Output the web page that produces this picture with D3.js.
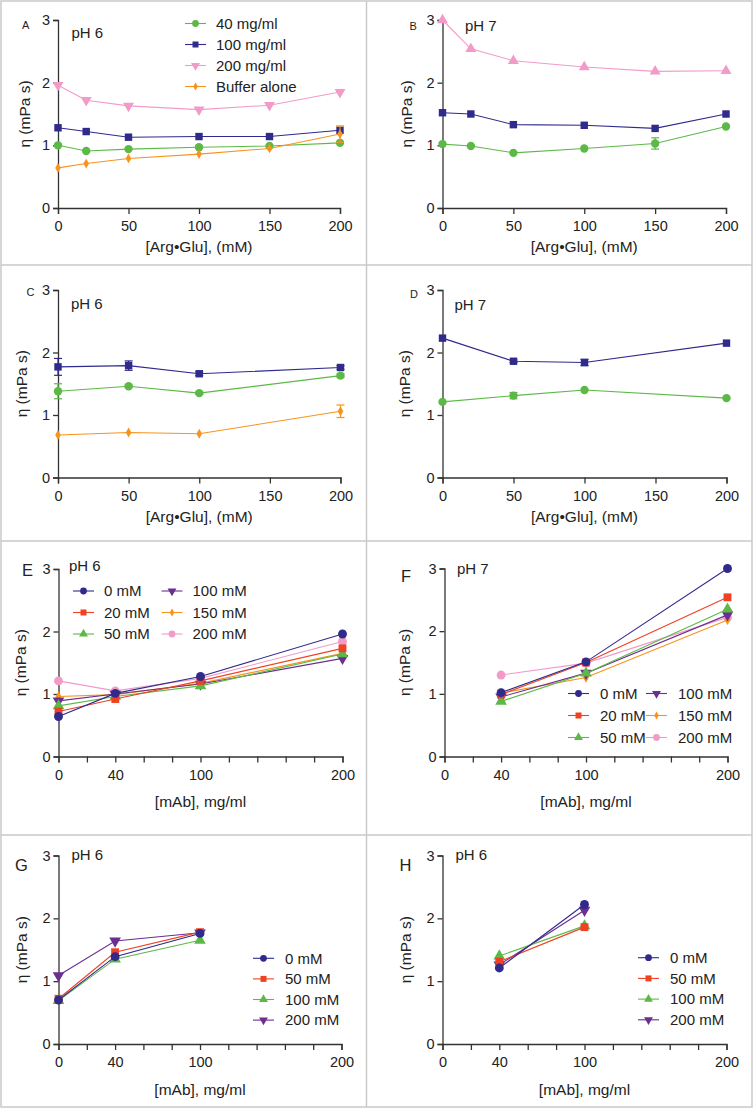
<!DOCTYPE html>
<html><head><meta charset="utf-8">
<script src="https://cdn.jsdelivr.net/npm/d3@7"></script>
<style>
body{margin:0;background:#fff}
svg{display:block}
text{font-family:'Liberation Sans',Arial,Helvetica,sans-serif;fill:#222}
</style>
</head><body>
<svg id="chart" width="756" height="1109"></svg>
<script>
// ---------------- DATA ----------------
const argGluAB = [0, 20, 50, 100, 150, 200];
const argGluCD = [0, 50, 100, 200];
const argGluTicks = [0, 50, 100, 150, 200];
const mabTicks = [0, 20, 40, 60, 80, 100, 120, 140, 160, 180, 200];
const mabTickLabels = [0, 40, 100, 200];
const yTicks = [0, 1, 2, 3];
const mabE = [0, 40, 100, 200];
const mabF = [40, 100, 200];
const mabG = [0, 40, 100];
const mabH = [40, 100];

const panelLetters = ["A", "B", "C", "D", "E", "F", "G", "H"];
const panelPH = ["pH 6", "pH 7", "pH 6", "pH 7", "pH 6", "pH 7", "pH 6", "pH 6"];
const xTitleArg = "[Arg\u2022Glu], (mM)";
const xTitleMab = "[mAb], mg/ml";
const yTitle = "\u03b7 (mPa s)";

const seriesNamesAB = ["40 mg/ml", "100 mg/ml", "200 mg/ml", "Buffer alone"];
const seriesNamesEF = ["0 mM", "20 mM", "50 mM", "100 mM", "150 mM", "200 mM"];
const seriesNamesGH = ["0 mM", "50 mM", "100 mM", "200 mM"];

// Panel A (pH 6)
const a40  = [1.00, 0.91, 0.94, 0.97, 0.99, 1.04];
const a100 = [1.28, 1.22, 1.13, 1.14, 1.14, 1.24];
const a200 = [1.96, 1.72, 1.63, 1.57, 1.64, 1.85];
const aBuf = [0.64, 0.71, 0.79, 0.86, 0.95, 1.18];
const aBufErr = [0, 0, 0, 0, 0, 0.13];
// Panel B (pH 7)
const b200 = [3.00, 2.54, 2.35, 2.25, 2.18, 2.19];
const b100 = [1.52, 1.50, 1.33, 1.32, 1.27, 1.50];
const b40  = [1.02, 0.99, 0.88, 0.95, 1.03, 1.30];
const b40Err = [0, 0, 0, 0, 0.09, 0];
// Panel C (pH 6)
const c100 = [1.77, 1.79, 1.66, 1.76];
const c100Err = [0.135, 0.075, 0.03, 0.03];
const c40  = [1.38, 1.46, 1.35, 1.63];
const c40Err = [0.12, 0.02, 0.02, 0.03];
const cBuf = [0.68, 0.72, 0.70, 1.06];
const cBufErr = [0, 0, 0, 0.10];
// Panel D (pH 7)
const d100 = [2.23, 1.86, 1.84, 2.15];
const d100Err = [0, 0.02, 0.05, 0];
const d40  = [1.21, 1.31, 1.40, 1.27];
const d40Err = [0, 0.05, 0, 0];
// Panel E (pH 6)
const e0   = [0.64, 1.01, 1.28, 1.96];
const e20  = [0.72, 0.92, 1.21, 1.73];
const e50  = [0.81, 0.96, 1.13, 1.64];
const e100 = [0.89, 1.00, 1.16, 1.57];
const e150 = [0.96, 0.99, 1.17, 1.65];
const e200 = [1.21, 1.05, 1.25, 1.84];
// Panel F (pH 7)
const f0   = [1.02, 1.51, 3.00];
const f20  = [0.99, 1.50, 2.54];
const f50  = [0.88, 1.33, 2.35];
const f100 = [0.95, 1.33, 2.26];
const f150 = [1.01, 1.26, 2.18];
const f200 = [1.30, 1.49, 2.22];
// Panel G (pH 6)
const g0   = [0.70, 1.39, 1.76];
const g50  = [0.72, 1.46, 1.78];
const g100 = [0.69, 1.35, 1.65];
const g200 = [1.09, 1.64, 1.77];
// Panel H
const h0   = [1.21, 2.22];
const h50  = [1.31, 1.86];
const h100 = [1.40, 1.88];
const h200 = [1.26, 2.13];

// ---------------- STYLE ----------------
const C = {
  green: "#5db947", navy: "#2f2a8b", pink: "#f29bc8", orange: "#f7941d",
  red: "#ef4123", purple: "#6b2e91"
};
const FONT = "'Liberation Sans', Arial, Helvetica, sans-serif";

const svg = d3.select("#chart");

// frame lines
const frame = svg.append("g").attr("stroke", "#c9c9c9").attr("stroke-width", 1.5).attr("fill", "none");
frame.append("rect").attr("x", 1).attr("y", 1).attr("width", 751).attr("height", 1106);
frame.append("line").attr("x1", 366.5).attr("x2", 366.5).attr("y1", 1).attr("y2", 1107);
[265, 541, 835].forEach(y => frame.append("line").attr("x1", 1).attr("x2", 752).attr("y1", y).attr("y2", y));

function symbolPath(shape, size) {
  const map = { circle: d3.symbolCircle, square: d3.symbolSquare, triUp: d3.symbolTriangle,
    triDown: d3.symbolTriangle, diamond: d3.symbolDiamond };
  return d3.symbol().type(map[shape]).size(size)();
}
function drawMarker(g, shape, cx, cy, color, size) {
  g.append("path").attr("d", symbolPath(shape, size))
    .attr("transform", `translate(${cx},${cy})` + (shape === "triDown" ? " rotate(180)" : ""))
    .attr("fill", color).attr("stroke", "none");
}
const sizeMul = { circle: 1, square: 1, triUp: 0.95, triDown: 0.95, diamond: 0.5 };

function drawPanel(p) {
  const g = svg.append("g");
  const x = d3.scaleLinear().domain([0, 200]).range([p.x0, p.x1]);
  const y = d3.scaleLinear().domain([0, 3]).range([p.yBot, p.yTop]);

  // axes
  const xa = d3.axisBottom(x).tickValues(p.xTicks).tickSizeOuter(0).tickSize(6).tickPadding(7)
    .tickFormat(d => p.xLabels.includes(d) ? d : "");
  const ya = d3.axisLeft(y).tickValues(yTicks).tickSizeOuter(0).tickSize(5).tickPadding(3).tickFormat(d3.format("d"));
  const gx = g.append("g").attr("transform", `translate(0,${p.yBot})`).call(xa);
  const gy = g.append("g").attr("transform", `translate(${p.x0},0)`).call(ya);
  [gx, gy].forEach(a => {
    a.select(".domain").attr("stroke", "#333").attr("stroke-width", 1.3);
    a.selectAll(".tick line").attr("stroke", "#333").attr("stroke-width", 1.3);
    a.selectAll(".tick text").attr("font-family", FONT).attr("font-size", 14.5).attr("fill", "#222");
  });

  // titles
  g.append("text").attr("x", (p.x0 + p.x1) / 2).attr("y", p.yBot + p.xTitleOff).attr("dy", "0.35em")
    .attr("text-anchor", "middle").attr("font-size", 15.5).text(p.xTitle);
  g.append("text").attr("transform", `translate(${p.x0 - p.yTitleOff},${(p.yTop + p.yBot) / 2}) rotate(-90)`)
    .attr("dy", "0.35em").attr("text-anchor", "middle").attr("font-size", 15.5).text(yTitle);
  g.append("text").attr("x", p.letter[0]).attr("y", p.letter[1]).attr("font-size", p.letterSize).text(p.letterText);
  g.append("text").attr("x", p.ph[0]).attr("y", p.ph[1]).attr("font-size", 15).text(p.phText);

  // series
  const line = d3.line().x(d => x(d[0])).y(d => y(d[1]));
  p.series.forEach(s => {
    const pts = p.xs(s).map((xv, i) => [xv, s.values[i]]);
    g.append("path").attr("d", line(pts)).attr("fill", "none").attr("stroke", s.color).attr("stroke-width", 1.1);
    if (s.err) {
      pts.forEach((d, i) => {
        const e = s.err[i];
        if (!e) return;
        const cx = x(d[0]), y1 = y(d[1] + e), y2 = y(d[1] - e);
        g.append("line").attr("x1", cx).attr("x2", cx).attr("y1", y1).attr("y2", y2).attr("stroke", s.color).attr("stroke-width", 1.2);
        [y1, y2].forEach(yy => g.append("line").attr("x1", cx - 4).attr("x2", cx + 4).attr("y1", yy).attr("y2", yy)
          .attr("stroke", s.color).attr("stroke-width", 1.2));
      });
    }
    pts.forEach(d => drawMarker(g, s.shape, x(d[0]), y(d[1]), s.color, p.mSize * sizeMul[s.shape]));
  });

  // legend
  if (p.legend) {
    p.legend.items.forEach((s, i) => {
      const col = Math.floor(i / p.legend.rows), row = i % p.legend.rows;
      const lx = p.legend.cols[col], ly = p.legend.y0 + row * p.legend.dy;
      g.append("line").attr("x1", lx).attr("x2", lx + 21).attr("y1", ly).attr("y2", ly).attr("stroke", s.color).attr("stroke-width", 1.1);
      drawMarker(g, s.shape, lx + 10.5, ly, s.color, p.legend.mSize * sizeMul[s.shape]);
      g.append("text").attr("x", lx + p.legend.textOff).attr("y", ly).attr("dy", "0.35em").attr("font-size", 15).text(s.name);
    });
  }
}

const sA = [
  { name: seriesNamesAB[0], values: a40, color: C.green, shape: "circle" },
  { name: seriesNamesAB[1], values: a100, color: C.navy, shape: "square" },
  { name: seriesNamesAB[2], values: a200, color: C.pink, shape: "triDown" },
  { name: seriesNamesAB[3], values: aBuf, err: aBufErr, color: C.orange, shape: "diamond" }
];
const sB = [
  { values: b200, color: C.pink, shape: "triUp" },
  { values: b100, color: C.navy, shape: "square" },
  { values: b40, err: b40Err, color: C.green, shape: "circle" }
];
const sC = [
  { values: c100, err: c100Err, color: C.navy, shape: "square" },
  { values: c40, err: c40Err, color: C.green, shape: "circle" },
  { values: cBuf, err: cBufErr, color: C.orange, shape: "diamond" }
];
const sD = [
  { values: d100, err: d100Err, color: C.navy, shape: "square" },
  { values: d40, err: d40Err, color: C.green, shape: "circle" }
];
const efStyles = [
  { color: C.navy, shape: "circle" }, { color: C.red, shape: "square" }, { color: C.green, shape: "triUp" },
  { color: C.purple, shape: "triDown" }, { color: C.orange, shape: "diamond" }, { color: C.pink, shape: "circle" }
];
const ghStyles = [
  { color: C.navy, shape: "circle" }, { color: C.red, shape: "square" },
  { color: C.green, shape: "triUp" }, { color: C.purple, shape: "triDown" }
];
const sE = [e200, e150, e100, e50, e20, e0].map((v, k) => { const i = 5 - k; return Object.assign({ name: seriesNamesEF[i], values: v }, efStyles[i]); });
const sF = [f200, f150, f100, f50, f20, f0].map((v, k) => { const i = 5 - k; return Object.assign({ name: seriesNamesEF[i], values: v }, efStyles[i]); });
const sG = [g200, g100, g50, g0].map((v, k) => { const i = 3 - k; return Object.assign({ name: seriesNamesGH[i], values: v }, ghStyles[i]); });
const sH = [h200, h100, h50, h0].map((v, k) => { const i = 3 - k; return Object.assign({ name: seriesNamesGH[i], values: v }, ghStyles[i]); });
const legEF = seriesNamesEF.map((n, i) => Object.assign({ name: n }, efStyles[i]));
const legGH = seriesNamesGH.map((n, i) => Object.assign({ name: n }, ghStyles[i]));

const panels = [
  { x0: 58, x1: 340, yTop: 20, yBot: 208, xTicks: argGluTicks, xLabels: argGluTicks, xTitle: xTitleArg, xTitleOff: 39, yTitleOff: 33,
    letter: [22, 28.5], letterSize: 11, ph: [71.5, 37.5], xs: () => argGluAB, series: sA, mSize: 55,
    legend: { items: sA, rows: 4, cols: [185], y0: 23.5, dy: 21, textOff: 31, mSize: 36 } },
  { x0: 442.5, x1: 726, yTop: 20, yBot: 208, xTicks: argGluTicks, xLabels: argGluTicks, xTitle: xTitleArg, xTitleOff: 39, yTitleOff: 36,
    letter: [409.5, 29.5], letterSize: 11, ph: [465, 30.5], xs: () => argGluAB, series: sB, mSize: 55 },
  { x0: 58, x1: 340.5, yTop: 290, yBot: 477.5, xTicks: argGluTicks, xLabels: argGluTicks, xTitle: xTitleArg, xTitleOff: 39, yTitleOff: 36,
    letter: [26.5, 296], letterSize: 11, ph: [71, 308.5], xs: () => argGluCD, series: sC, mSize: 55 },
  { x0: 442.5, x1: 726.5, yTop: 290, yBot: 477.5, xTicks: argGluTicks, xLabels: argGluTicks, xTitle: xTitleArg, xTitleOff: 39, yTitleOff: 38,
    letter: [410, 297.5], letterSize: 11, ph: [454.5, 310], xs: () => argGluCD, series: sD, mSize: 55 },
  { x0: 58.5, x1: 342.5, yTop: 569, yBot: 756.5, xTicks: mabTicks, xLabels: mabTickLabels, xTitle: xTitleMab, xTitleOff: 45.5, yTitleOff: 38,
    letter: [22, 575.5], letterSize: 16.5, ph: [69, 571], xs: () => mabE, series: sE, mSize: 62,
    legend: { items: legEF, rows: 3, cols: [73, 161.5], y0: 591, dy: 21.5, textOff: 31, mSize: 36 } },
  { x0: 444.5, x1: 727.5, yTop: 568.5, yBot: 756.5, xTicks: mabTicks, xLabels: mabTickLabels, xTitle: xTitleMab, xTitleOff: 45.5, yTitleOff: 40,
    letter: [401, 582], letterSize: 16.5, ph: [457, 573.5], xs: () => mabF, series: sF, mSize: 62,
    legend: { items: legEF, rows: 3, cols: [568, 646], y0: 693.5, dy: 22, textOff: 32, mSize: 36 } },
  { x0: 58.5, x1: 341.5, yTop: 855.5, yBot: 1044, xTicks: mabTicks, xLabels: mabTickLabels, xTitle: xTitleMab, xTitleOff: 46, yTitleOff: 37,
    letter: [15, 871], letterSize: 16.5, ph: [71.5, 859.5], xs: () => mabG, series: sG, mSize: 62,
    legend: { items: legGH, rows: 4, cols: [253], y0: 958.3, dy: 20.6, textOff: 32, mSize: 36 } },
  { x0: 442.5, x1: 726.5, yTop: 855.5, yBot: 1044, xTicks: mabTicks, xLabels: mabTickLabels, xTitle: xTitleMab, xTitleOff: 46, yTitleOff: 37,
    letter: [399.5, 871], letterSize: 16.5, ph: [455.5, 859.5], xs: () => mabH, series: sH, mSize: 62,
    legend: { items: legGH, rows: 4, cols: [638], y0: 957.7, dy: 20.7, textOff: 32, mSize: 36 } }
];
panels.forEach((p, i) => { p.letterText = panelLetters[i]; p.phText = panelPH[i]; drawPanel(p); });
</script>
</body></html>
